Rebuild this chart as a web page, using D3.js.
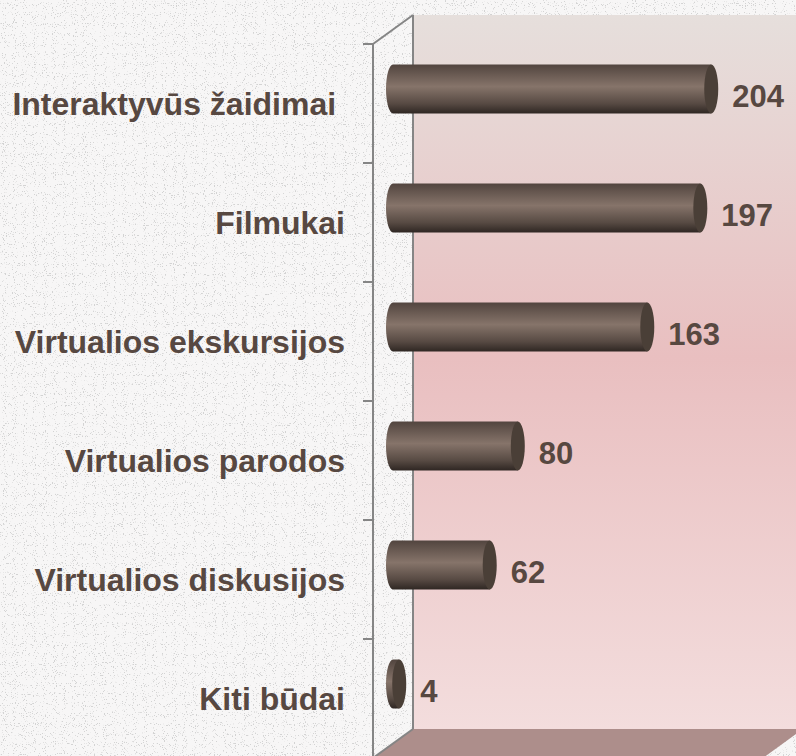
<!DOCTYPE html>
<html>
<head>
<meta charset="utf-8">
<script src="https://cdn.jsdelivr.net/npm/d3@7"></script>
<style>
  html, body { margin: 0; padding: 0; background: #f4f2f2; }
  svg { display: block; }
</style>
</head>
<body>
<svg id="chart"></svg>
<script>
// data
const categories = ["Interaktyvūs žaidimai ", "Filmukai", "Virtualios ekskursijos",
                    "Virtualios parodos", "Virtualios diskusijos", "Kiti būdai"];
const values = [204, 197, 163, 80, 62, 4];

let width = 796,
    height = 756,
    depthX = 40,   // 3d depth offset
    depthY = -29,
    textColor = "#574841";

let svg = d3.select("#chart").attr("width", width).attr("height", height);
let defs = svg.append("defs");

// scales on the front plane
let x = d3.scaleLinear().domain([0, 250]).range([373, 763]);
let y = d3.scaleBand().domain(categories).range([44, 758]);

// textured background
let noise = defs.append("filter").attr("id", "noise")
    .attr("x", 0).attr("y", 0).attr("width", "100%").attr("height", "100%");
noise.append("feTurbulence").attr("type", "fractalNoise")
    .attr("baseFrequency", 0.9).attr("numOctaves", 1).attr("seed", 7);
noise.append("feColorMatrix").attr("type", "matrix")
    .attr("values", "0 0 0 0 0.6  0 0 0 0 0.6  0 0 0 0 0.6  14 0 0 0 -8.6");

svg.append("rect").attr("width", width).attr("height", height).attr("fill", "#f7f6f6");
svg.append("rect").attr("width", width).attr("height", height)
    .attr("filter", "url(#noise)").attr("opacity", 0.8);

// back wall gradient
let wallGrad = defs.append("linearGradient").attr("id", "wall")
    .attr("x1", 0).attr("y1", 0).attr("x2", 0).attr("y2", 1);
wallGrad.append("stop").attr("offset", "0%").attr("stop-color", "#e6dfdc");
wallGrad.append("stop").attr("offset", "48%").attr("stop-color", "#e9bfc0");
wallGrad.append("stop").attr("offset", "100%").attr("stop-color", "#f3dddd");

let x0 = x.range()[0], x1 = x.range()[1];
let yTop = y.range()[0], yBot = y.range()[1];

svg.append("rect")
    .attr("x", x0 + depthX).attr("y", yTop + depthY)
    .attr("width", x1 - x0).attr("height", yBot - yTop)
    .attr("fill", "url(#wall)");

// floor
svg.append("polygon")
    .attr("points", [[x0, yBot], [x1, yBot], [x1 + depthX, yBot + depthY], [x0 + depthX, yBot + depthY]].join(" "))
    .attr("fill", "#ad8e8b");

// side wall edges
let wall = svg.append("g").attr("stroke", "#858585").attr("stroke-width", 2).attr("fill", "none");
wall.append("line").attr("x1", x0).attr("y1", yTop).attr("x2", x0).attr("y2", yBot);
wall.append("line").attr("x1", x0 + depthX).attr("y1", yTop + depthY).attr("x2", x0 + depthX).attr("y2", yBot + depthY);
wall.append("line").attr("x1", x0).attr("y1", yTop).attr("x2", x0 + depthX).attr("y2", yTop + depthY);
wall.append("line").attr("x1", x0).attr("y1", yBot).attr("x2", x0 + depthX).attr("y2", yBot + depthY);

// ticks between categories
let tickPos = categories.map(d => y(d)).concat([yBot]);
wall.selectAll(".tick").data(tickPos).enter().append("line")
    .attr("x1", x0 - 10).attr("x2", x0)
    .attr("y1", d => d).attr("y2", d => d);

// category labels
svg.append("g").selectAll("text").data(categories).enter().append("text")
    .attr("x", 345)
    .attr("y", d => y(d) + y.bandwidth() / 2)
    .attr("text-anchor", "end")
    .attr("dominant-baseline", "central")
    .style("white-space", "pre")
    .attr("font-family", "Liberation Sans, Arial, sans-serif")
    .attr("font-weight", "bold")
    .attr("font-size", 32)
    .attr("fill", textColor)
    .text(d => d);

// cylinder bars
let barGrad = defs.append("linearGradient").attr("id", "bar")
    .attr("x1", 0).attr("y1", 0).attr("x2", 0).attr("y2", 1);
barGrad.append("stop").attr("offset", "0%").attr("stop-color", "#52453f");
barGrad.append("stop").attr("offset", "45%").attr("stop-color", "#86746a");
barGrad.append("stop").attr("offset", "80%").attr("stop-color", "#574a43");
barGrad.append("stop").attr("offset", "100%").attr("stop-color", "#2f2723");

let barH = y.bandwidth() * 0.41,
    rx = 7;

let bars = svg.append("g").selectAll("g").data(values).enter().append("g")
    .attr("transform", (d, i) => "translate(" + (depthX / 2) + "," + (y(categories[i]) + y.bandwidth() / 2 + depthY / 2) + ")");

bars.append("path")
    .attr("d", d => {
        let a = x(0), b = x(d), h = barH / 2;
        return "M" + b + "," + (-h) + "L" + a + "," + (-h) +
            "A" + rx + "," + h + " 0 0 0 " + a + "," + h +
            "L" + b + "," + h + "Z";
    })
    .attr("fill", "url(#bar)");

bars.append("ellipse")
    .attr("cx", d => x(d)).attr("cy", 0)
    .attr("rx", rx).attr("ry", barH / 2)
    .attr("fill", "#4a3f37");

// value labels
bars.append("text")
    .attr("x", d => x(d) + rx + 14)
    .attr("y", 7)
    .attr("dominant-baseline", "central")
    .attr("font-family", "Liberation Sans, Arial, sans-serif")
    .attr("font-weight", "bold")
    .attr("font-size", 31)
    .attr("fill", textColor)
    .text(d => d);
</script>
</body>
</html>
